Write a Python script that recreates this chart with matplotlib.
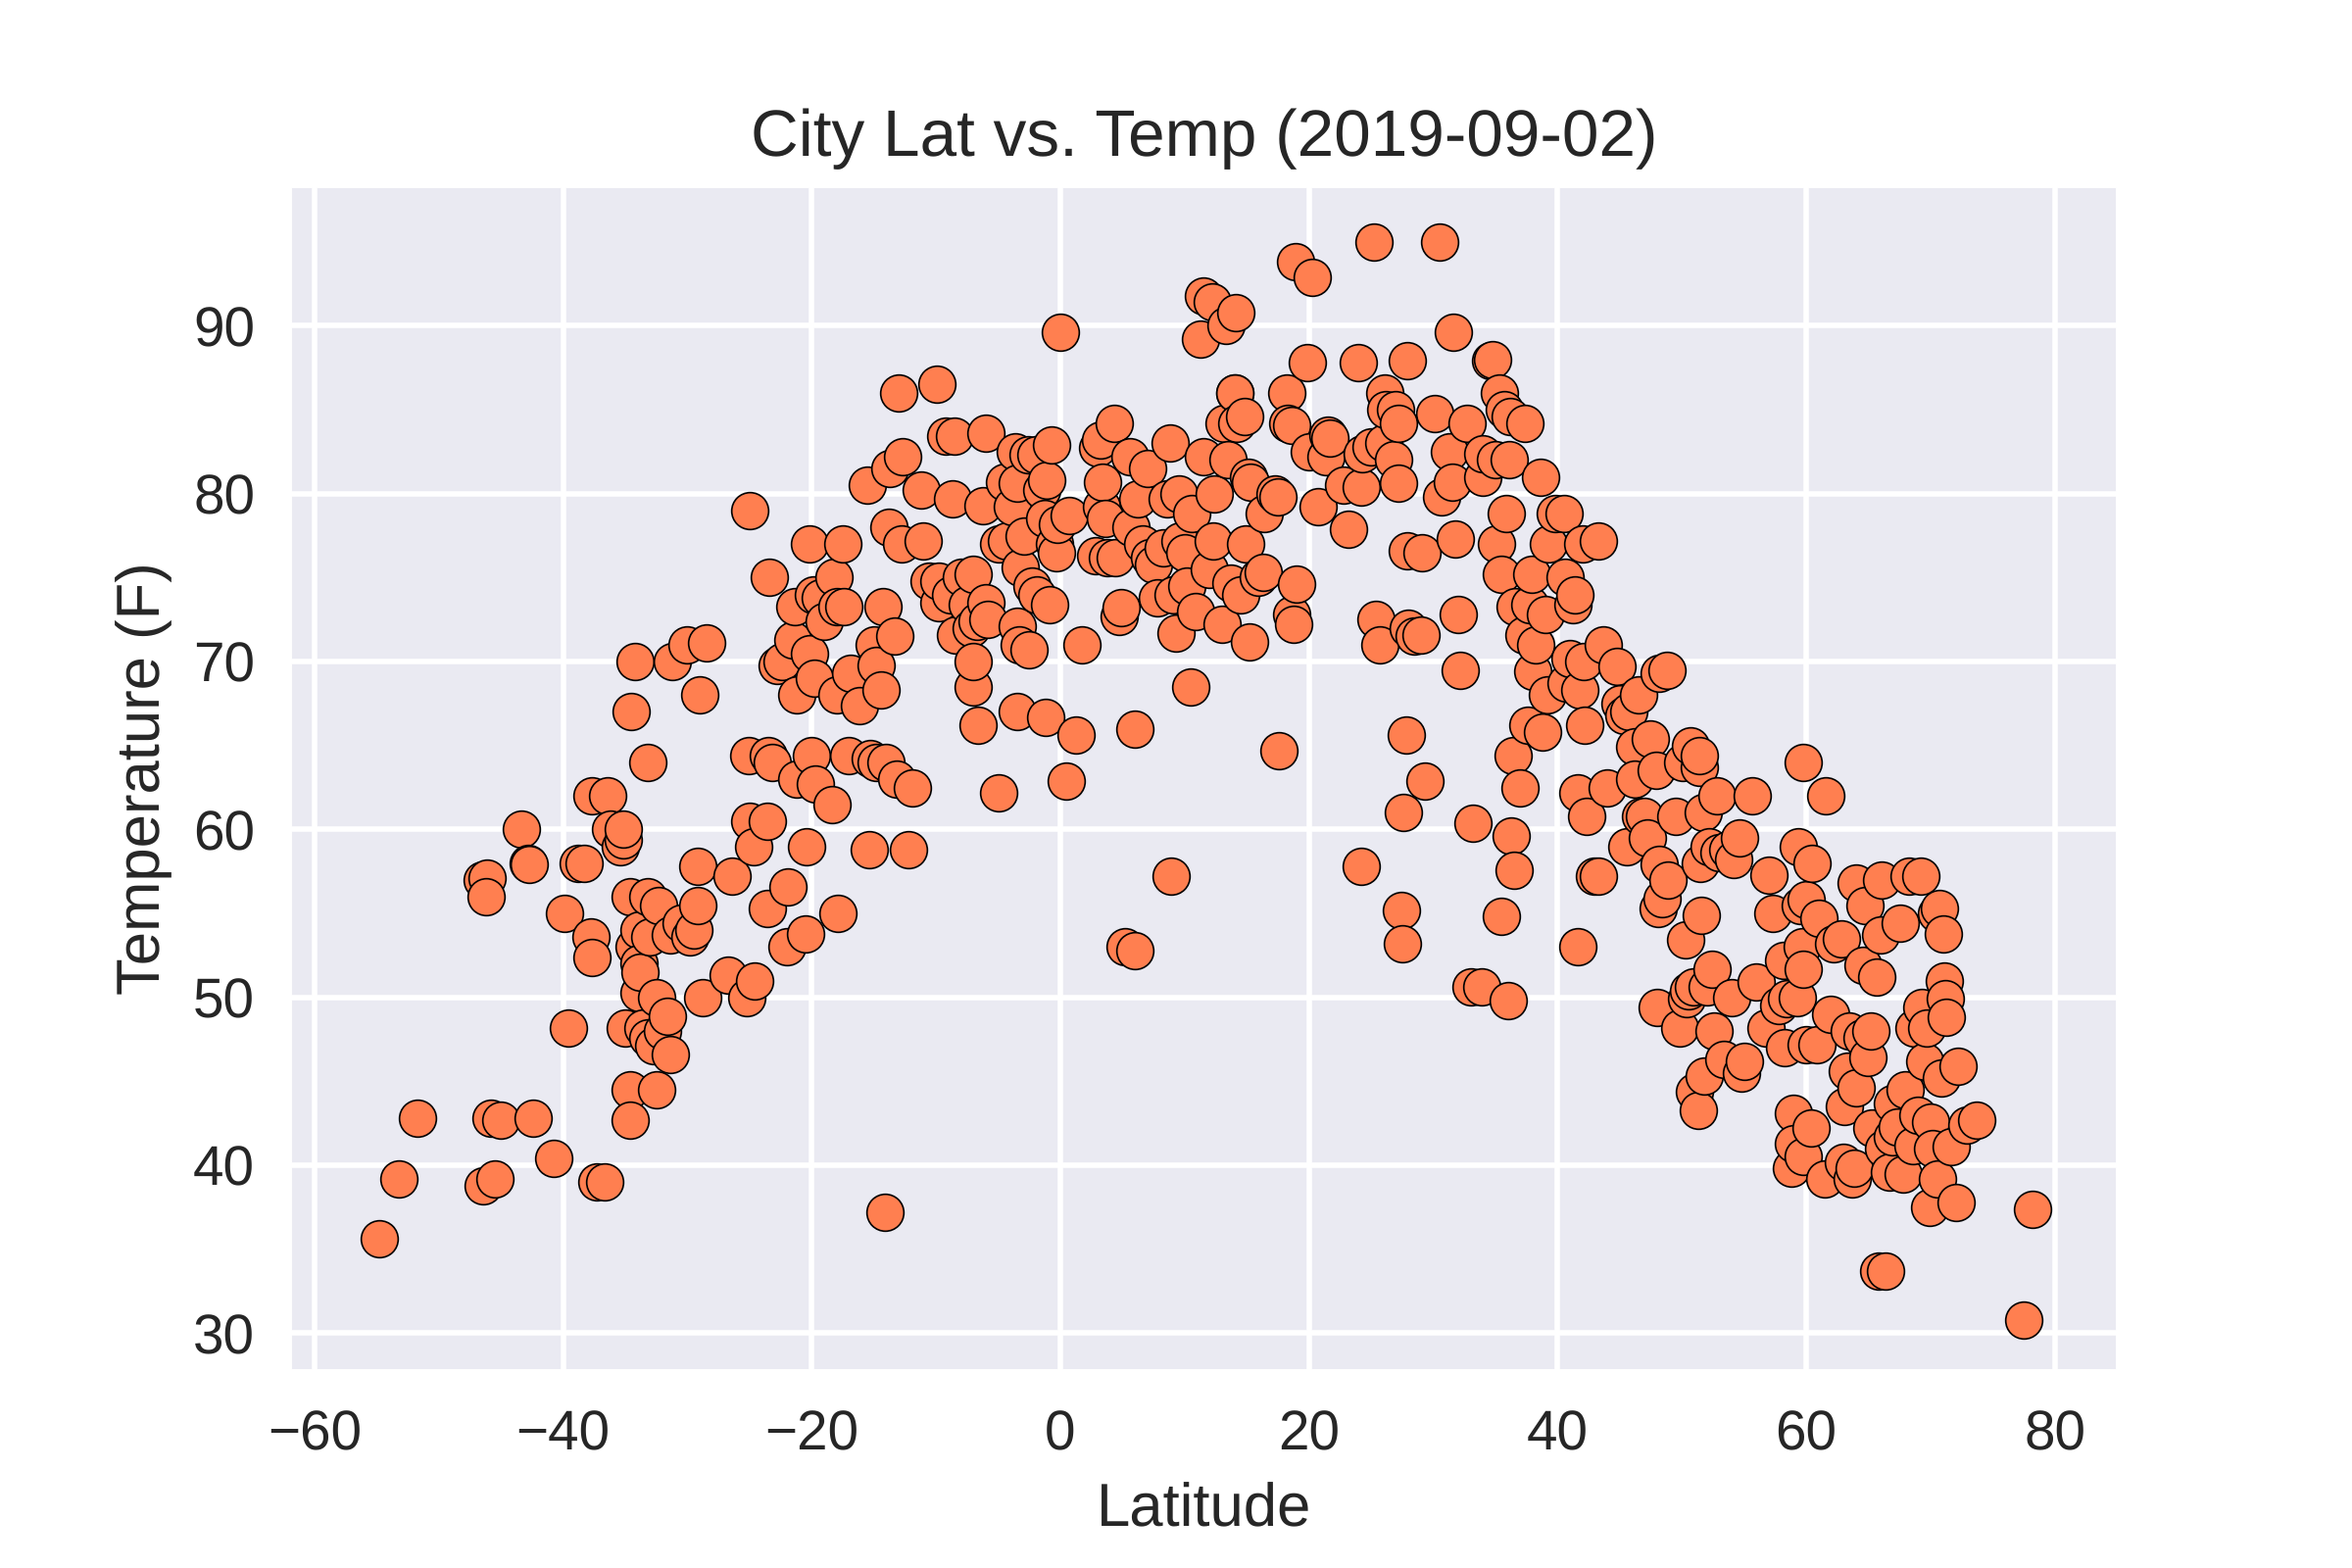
import matplotlib
matplotlib.use("Agg")
import matplotlib.pyplot as plt
import seaborn as sns

south = [(-54.8,35.6),(-53.2,39.2),(-51.7,42.8),(-46.5,57.0),(-46.1,57.1),(-46.2,56.0),(-46.4,38.8),(-45.8,42.8),(-45.5,39.2),(-45.0,42.7),(-43.4,60),(-42.8,58),(-42.7,57.9),(-42.4,42.8),(-40.8,40.4),(-39.9,55),(-39.6,48.2),(-38.8,58),(-38.3,58),(-37.8,53.6),(-37.7,52.4),(-37.7,62),(-37.3,39),(-36.7,39),(-36.4,62),(-36.2,60),(-35.4,59),(-35.2,59.4),(-35.2,60),(-35,48.2),(-34.6,56),(-34.6,44.5),(-34.6,42.7),(-34.5,67),(-34.2,70),(-34.3,53),(-33.9,54),(-33.9,52),(-33.9,50.3),(-33.8,51.5),(-33.6,48.2),(-33.2,64),(-33.2,47.6),(-33.2,56),(-33,53.6),(-32.7,47.1),(-32.5,50),(-32.5,44.5),(-32.3,55.5),(-32,48),(-31.6,48.9),(-31.4,46.6),(-31.4,53.7),(-31.2,70),(-30.5,54.4),(-30,71),(-29.8,53.6),(-29.5,54),(-29.2,57.8),(-29.2,55.5),(-29,68),(-28.8,50),(-28.5,71.1),(-26.4,57.2),(-26.7,51.3),(-25.2,50),(-25.1,64.4),(-25,60.5),(-25,79),(-24.7,59),(-24.6,51),(-23.6,55.3),(-23.6,60.5),(-23.5,64.4),(-23.4,75),(-23.2,64),(-22.8,69.8),(-22.4,70),(-22,53),(-21.9,56.6),(-21.5,71.3),(-21.4,73.3),(-21.2,68),(-21.2,63),(-20.5,53.8),(-20.4,59),(-20.2,70.5),(-20.2,77),(-20.0,64.4),(-19.9,74),(-19.8,69),(-19.7,62.7),(-19.3,73.8),(-19,72.4),(-18.4,61.5),(-18.2,75),(-18,68),(-18,73.3),(-17.9,55),(-17.5,77),(-17.4,73.3),(-17,64.4),(-16.9,69.3),(-16.2,67.4),(-15.5,80.5),(-15.4,58.8),(-15.3,64.2),(-15,71),(-14.8,69.8),(-14.8,64),(-14.4,68.3),(-14.3,73.3),(-14.1,37.2),(-14,64),(-13.8,78),(-13.7,81.5),(-13.3,71.5),(-13.2,63),(-13,86),(-12.8,77),(-12.7,82.2),(-12.2,58.8),(-11.9,62.5),(-11.2,80.2),(-11,77.2),(-10.6,74.8),(-9.9,86.5),(-9.8,73.5),(-9.8,74.8),(-9.2,83.4),(-8.8,74),(-8.7,79.7),(-8.5,83.4),(-8.4,71.6),(-8,75),(-7.5,73.4),(-7.2,72),(-7,75.2),(-7,68.5),(-7,70),(-6.7,72.4),(-6.6,66.2),(-6.2,79.3),(-6,83.6),(-6,73.5),(-5.8,72.5),(-5,77),(-5,62.2),(-4.5,80.7),(-4.3,77.2),(-3.9,79.2),(-3.6,82.5),(-3.5,80.6),(-3.5,72.1),(-3.5,67),(-3.3,71),(-3.2,75.6),(-2.9,77.5),(-2.6,82.3),(-2.5,70.7),(-2.3,74.5),(-2,82.3),(-1.9,74),(-1.5,80.2),(-1.3,78.5),(-1.2,66.7),(-1.1,80.8),(-0.9,73.4),(-0.7,82.9),(-0.5,77),(-0.3,76.5),(-0.2,78.2)]

tropics = [(0,89.6),(0.5,62.9),(0.7,78.7),(1.3,65.6),(1.7,71),(2.8,76.3),(3,82.7),(3.2,83.2),(3.3,79.2),(3.4,80.7),(3.6,78.5),(3.8,76.2),(4.3,84.2),(4.4,76.2),(4.7,72.7),(4.9,73.2),(5.2,53),(5.6,82.2),(5.7,78),(6,66),(6,52.8),(6.2,79.7),(6.6,77),(7,81.5),(7.2,76.2),(7.5,75.8),(7.8,73.8),(8.3,76.8),(8.6,79.7),(8.8,83),(8.9,57.2),(9.1,74),(9.3,71.7),(9.5,80),(9.6,77.2),(10,76.5),(10.2,74.5),(10.5,68.5),(10.6,78.8),(10.9,73),(11.3,89.2),(11.5,91.8),(11.5,82.2),(12,75.5),(12.2,91.4),(12.3,77.2),(12.4,80),(13,72.2),(13.2,84.2),(13.3,90),(13.5,82),(13.7,74.7),(14,86),(14,86),(14.1,90.8),(14.2,84.2),(14.5,74),(14.8,84.6),(14.9,77),(15.1,81),(15.2,71.2),(15.3,80.7),(15.9,75),(16.3,75.3),(16.4,78.8),(17.3,80),(17.6,64.7),(17.5,79.8),(18.2,86),(18.3,84.2),(18.6,84.1),(18.6,72.8),(18.8,72.2),(18.9,93.8),(19,74.6),(19.9,87.8),(20,82.5),(20.3,92.9),(20.7,79.2),(21.4,82.2),(21.5,83.5),(21.7,83.3),(22.8,80.5),(23.2,77.9),(24,87.8),(24.2,80.4),(24.2,57.8),(24.3,82.4),(25,82.8),(25.2,95),(25.4,72.5),(25.7,71),(26,83),(26.1,86),(26.2,85),(26.8,82),(27,85),(27.2,84.2),(27.2,80.6),(27.4,55.2),(27.5,53.2),(27.6,61),(27.8,65.6),(27.9,87.9),(27.9,76.6),(28,72),(28.5,71.5),(29,71.6),(29.1,76.5),(29.3,62.9),(30.1,84.8),(30.5,95),(30.7,79.8),(31.3,82.5),(31.5,80.7),(31.6,89.6),(31.8,77.3),(32,72.8),(32.2,69.5),(32.7,84.2),(33,50.6),(33.2,60.4),(33.9,50.6),(34,81),(34,82.4),(34.6,87.9),(34.8,88),(35,82),(35.1,77),(35.3,86),(35.5,75.2),(35.5,54.8),(35.7,85),(35.9,78.8),(36,49.8),(36.1,82),(36.2,84.6),(36.3,59.6),(36.4,64.4),(36.5,57.6),(36.6,73.3),(37,62.5),(37.3,71.6),(37.4,84.2),(37.6,66.2),(37.8,73.4),(37.9,75.2),(38,69.4),(38.2,71),(38.6,81),(38.8,65.8),(39,72.8),(39.2,68),(39.3,77)]

north = [(39.8,78.8),(40.5,78.8),(40.6,75),(40.7,68.7),(41,70.2),(41.2,73.4),(41.4,74),(41.6,62.2),(41.6,53),(41.8,68.3),(42,77),(42.1,70),(42.2,66.2),(42.3,60.8),(43,57.2),(43.3,77.2),(43.3,57.2),(43.7,71),(44,62.5),(44.8,69.7),(45,67.5),(45.3,66.8),(45.6,59),(45.7,67),(46.2,64.9),(46.2,63),(46.5,68),(46.7,60.8),(47,60.8),(47.2,59.5),(47.5,65.4),(47.9,63.5),(48.1,55.3),(48,49.4),(48.2,69.3),(48.2,57.9),(48.4,55.9),(48.8,69.5),(48.9,57),(49.5,60.8),(49.8,48.2),(50.1,64),(50.3,53.4),(50.4,49.9),(50.5,50.4),(50.7,65),(50.9,50.6),(51,44.4),(51.3,43.3),(51.4,63.7),(51.4,64.4),(51.5,58),(51.6,54.9),(51.7,61),(51.8,45.3),(52,50.6),(52.2,59),(52.4,51.7),(52.6,48),(52.8,62),(53,58.6),(53.4,46.3),(53.7,58.8),(54,50),(54.2,58.2),(54.6,59.5),(54.8,45.5),(55,46.2),(55.7,62),(56,50.9),(56.8,48.2),(57,57.3),(57.3,55),(57.8,49.5),(58.2,52.2),(58.3,47),(58.4,49.9),(58.8,39.8),(59,43.1),(59,41.3),(59.3,50),(59.4,59),(59.5,55.5),(59.7,53),(59.8,40.5),(59.8,51.7),(59.8,64),(60,47.2),(60,55.8),(60.4,42.2),(60.5,58),(60.9,47.2),(61,54.7),(61.5,39.2),(61.6,62),(62,49),(62.2,53.2),(62.8,53.5),(63,40.2),(63.1,43.5),(63.3,45.6),(63.5,48),(63.7,39.2),(63.9,39.8),(64,44.6),(64,56.8),(64.5,47.6),(64.6,51.9),(64.7,55.5),(65,46.4),(65.2,48),(65.3,42.2),(65.7,51.2),(65.8,33.7),(66,53.7),(66.1,57),(66.2,41),(66.4,33.7),(66.7,39.6),(66.9,41.7),(66.9,43.7),(67.3,42.3),(67.6,54.4),(67.8,39.5),(68,44.5),(68.3,57.2),(68.6,41.2),(68.7,48.2),(69,43),(69.2,57.2),(69.3,49.4),(69.5,46.2),(69.7,48.2),(69.9,37.5),(70,42.6),(70.2,41),(70.5,55),(70.6,39.2),(70.7,55.3),(70.9,45.2),(71,53.8),(71.1,51),(71.2,49.9),(71.3,48.8),(71.7,41.1),(72.1,37.8),(72.2,45.9),(72.9,42.4),(73.7,42.7),(77.5,30.8),(78.2,37.4)]

points = south + tropics + north
lats = [p[0] for p in points]
temps = [p[1] for p in points]

sns.set_theme(style="darkgrid")
plt.rcParams['font.family'] = ['Liberation Sans', 'DejaVu Sans']
plt.rcParams['text.hinting'] = 'none'

fig = plt.figure(figsize=(6, 4), dpi=400)
ax = fig.add_axes([0.1227, 0.1247, 0.7783, 0.7577])
ax.scatter(lats, temps, s=46, c="coral", edgecolors="black", linewidths=0.3, zorder=3)
ax.set_xlim(-62.09, 85.18)
ax.set_ylim(27.66, 98.42)
ax.set_title("City Lat vs. Temp (2019-09-02)", fontsize=12.15, pad=5.2)
ax.set_xlabel("Latitude", fontsize=11.1, labelpad=3.85)
ax.set_ylabel("Temperature (F)", fontsize=11.1, labelpad=3.8)
ax.tick_params(axis='x', labelsize=10.2, pad=0.7)
ax.tick_params(axis='y', labelsize=10.2, pad=0.2)
fig.savefig("out.png", dpi=400)
